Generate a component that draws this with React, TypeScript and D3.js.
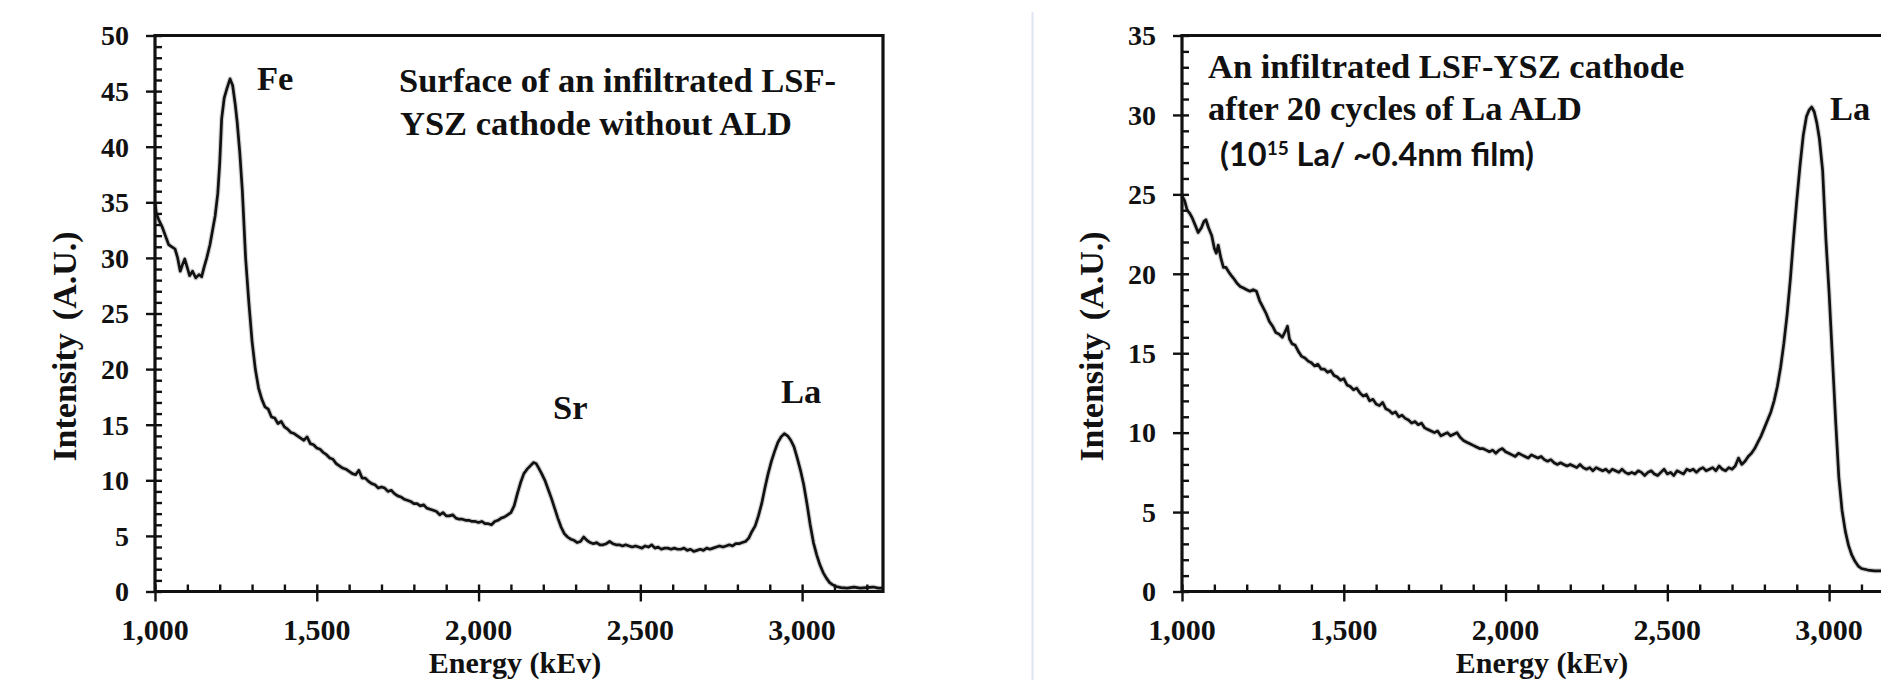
import React, { useEffect, useRef } from "react";
import * as d3 from "d3";

// [energy keV, intensity] (no ALD)
const spectrumNoAld: [number, number][] = [
  [1000, 35.0], [1004, 34.0], [1012, 33.4], [1022, 32.8], [1032, 32.0], [1042, 31.2],
  [1052, 31.0], [1062, 30.8], [1070, 30.0], [1078, 28.8], [1085, 29.4], [1092, 29.9],
  [1100, 29.1], [1107, 28.4], [1116, 28.8], [1126, 28.2], [1136, 28.5], [1144, 28.3],
  [1152, 29.2], [1160, 30.0], [1170, 31.2], [1178, 32.5], [1186, 33.8], [1194, 35.8],
  [1200, 38.5], [1206, 42.5], [1214, 44.4], [1222, 45.2], [1232, 46.1], [1240, 45.5],
  [1248, 43.8], [1254, 42.2], [1262, 39.5], [1270, 36.0], [1280, 30.0], [1290, 26.0],
  [1300, 22.5], [1310, 20.0], [1320, 18.3], [1330, 17.3], [1340, 16.6], [1350, 16.4],
  [1360, 15.7], [1370, 15.6], [1380, 15.1], [1390, 15.3], [1400, 14.8], [1410, 14.6],
  [1420, 14.3], [1430, 14.2], [1440, 14.0], [1450, 13.8], [1460, 13.6], [1470, 13.9],
  [1480, 13.3], [1490, 13.2], [1500, 12.9], [1510, 12.8], [1520, 12.5], [1530, 12.3],
  [1540, 12.0], [1550, 11.9], [1560, 11.5], [1570, 11.3], [1580, 11.1], [1590, 11.0],
  [1600, 10.8], [1610, 10.6], [1620, 10.5], [1630, 10.9], [1640, 10.2], [1650, 10.2],
  [1660, 9.9], [1670, 9.7], [1680, 9.6], [1690, 9.3], [1700, 9.4], [1710, 9.3],
  [1720, 9.0], [1730, 9.1], [1740, 8.8], [1750, 8.6], [1760, 8.5], [1770, 8.3],
  [1780, 8.2], [1790, 8.1], [1800, 7.9], [1810, 7.9], [1820, 7.7], [1830, 7.8],
  [1840, 7.5], [1850, 7.4], [1860, 7.3], [1870, 7.2], [1880, 6.9], [1890, 7.1],
  [1900, 6.8], [1910, 6.8], [1920, 6.9], [1930, 6.6], [1940, 6.5], [1950, 6.5],
  [1960, 6.4], [1970, 6.4], [1980, 6.3], [1990, 6.3], [2000, 6.2], [2010, 6.3],
  [2020, 6.1], [2030, 6.1], [2040, 6.0], [2050, 6.3], [2060, 6.4], [2070, 6.6],
  [2080, 6.7], [2090, 6.9], [2100, 7.1], [2110, 7.7], [2120, 8.8], [2130, 9.8],
  [2140, 10.6], [2150, 11.0], [2160, 11.3], [2170, 11.6], [2178, 11.5], [2186, 11.1],
  [2195, 10.6], [2205, 10.0], [2215, 9.2], [2225, 8.4], [2235, 7.5], [2245, 6.6],
  [2255, 5.8], [2265, 5.2], [2275, 4.9], [2285, 4.7], [2295, 4.6], [2305, 4.4],
  [2315, 4.5], [2325, 4.9], [2335, 4.6], [2345, 4.4], [2355, 4.3], [2365, 4.4],
  [2375, 4.2], [2385, 4.2], [2395, 4.3], [2405, 4.5], [2415, 4.3], [2425, 4.2],
  [2435, 4.2], [2445, 4.1], [2455, 4.2], [2465, 4.1], [2475, 4.0], [2485, 4.1],
  [2495, 4.0], [2505, 3.9], [2515, 4.1], [2525, 4.0], [2535, 4.2], [2545, 3.9],
  [2555, 4.0], [2565, 3.8], [2575, 3.9], [2585, 3.9], [2595, 3.8], [2605, 3.9],
  [2615, 3.8], [2625, 3.8], [2635, 3.9], [2645, 3.7], [2655, 3.8], [2665, 3.6],
  [2675, 3.7], [2685, 3.8], [2695, 3.7], [2705, 3.9], [2715, 3.8], [2725, 3.9],
  [2735, 4.0], [2745, 4.1], [2755, 4.0], [2765, 4.1], [2775, 4.2], [2785, 4.1],
  [2795, 4.3], [2805, 4.3], [2815, 4.4], [2825, 4.5], [2835, 4.8], [2845, 5.4],
  [2855, 5.9], [2865, 6.8], [2875, 7.9], [2885, 9.3], [2895, 10.6], [2905, 11.7],
  [2915, 12.6], [2925, 13.4], [2935, 13.9], [2945, 14.2], [2955, 14.0], [2965, 13.6],
  [2975, 13.0], [2985, 12.0], [2995, 10.9], [3005, 9.6], [3015, 7.9], [3025, 6.0],
  [3035, 4.4], [3045, 3.3], [3055, 2.4], [3065, 1.7], [3075, 1.2], [3085, 0.8],
  [3095, 0.6], [3105, 0.45], [3120, 0.35], [3140, 0.3], [3160, 0.4], [3180, 0.3],
  [3200, 0.35], [3220, 0.4], [3235, 0.3], [3250, 0.3],
];

// [energy keV, intensity] (20 cycles La ALD)
const spectrumLaAld: [number, number][] = [
  [1000, 24.9], [1008, 24.6], [1016, 24.0], [1024, 23.8], [1032, 23.5], [1042, 23.0],
  [1050, 22.6], [1060, 22.9], [1068, 23.3], [1074, 23.4], [1082, 22.9], [1092, 22.4],
  [1100, 21.6], [1106, 21.3], [1112, 21.8], [1120, 21.0], [1128, 20.4], [1136, 20.4],
  [1145, 20.1], [1152, 19.9], [1160, 19.7], [1170, 19.4], [1180, 19.2], [1190, 19.1],
  [1200, 19.0], [1210, 18.9], [1220, 19.0], [1230, 18.9], [1240, 18.3], [1250, 17.9],
  [1260, 17.5], [1270, 17.0], [1280, 16.7], [1290, 16.3], [1300, 16.2], [1310, 16.0],
  [1320, 16.4], [1326, 16.7], [1332, 15.9], [1340, 15.6], [1350, 15.5], [1360, 15.1],
  [1370, 14.8], [1380, 14.7], [1390, 14.5], [1400, 14.4], [1410, 14.2], [1420, 14.3],
  [1430, 14.0], [1440, 14.0], [1450, 13.8], [1460, 13.9], [1470, 13.6], [1480, 13.5],
  [1490, 13.3], [1500, 13.4], [1510, 13.0], [1520, 12.9], [1530, 12.7], [1540, 12.8],
  [1550, 12.5], [1560, 12.3], [1570, 12.4], [1580, 12.0], [1590, 12.1], [1600, 11.8],
  [1610, 11.7], [1620, 11.9], [1630, 11.5], [1640, 11.4], [1650, 11.2], [1660, 11.3],
  [1670, 11.0], [1680, 11.1], [1690, 10.9], [1700, 10.8], [1710, 10.6], [1720, 10.7],
  [1730, 10.5], [1740, 10.6], [1750, 10.3], [1760, 10.2], [1770, 10.1], [1780, 10.0],
  [1790, 10.1], [1800, 9.8], [1810, 9.9], [1820, 10.0], [1830, 9.8], [1840, 9.9],
  [1850, 10.0], [1860, 9.7], [1870, 9.5], [1880, 9.4], [1890, 9.3], [1900, 9.2],
  [1910, 9.1], [1920, 9.0], [1930, 9.0], [1940, 8.9], [1950, 8.8], [1960, 8.9],
  [1970, 8.7], [1980, 8.9], [1990, 9.0], [2000, 8.8], [2010, 8.7], [2020, 8.6],
  [2030, 8.5], [2040, 8.7], [2050, 8.6], [2060, 8.5], [2070, 8.4], [2080, 8.6],
  [2090, 8.5], [2100, 8.4], [2110, 8.5], [2120, 8.3], [2130, 8.2], [2140, 8.3],
  [2150, 8.1], [2160, 8.0], [2170, 8.1], [2180, 8.0], [2190, 7.9], [2200, 8.0],
  [2210, 7.9], [2220, 7.8], [2230, 8.0], [2240, 7.8], [2250, 7.7], [2260, 7.8],
  [2270, 7.6], [2280, 7.8], [2290, 7.7], [2300, 7.6], [2310, 7.7], [2320, 7.5],
  [2330, 7.7], [2340, 7.6], [2350, 7.5], [2360, 7.7], [2370, 7.5], [2380, 7.4],
  [2390, 7.5], [2400, 7.4], [2410, 7.6], [2420, 7.5], [2430, 7.3], [2440, 7.5],
  [2450, 7.6], [2460, 7.4], [2470, 7.3], [2480, 7.5], [2490, 7.7], [2500, 7.4],
  [2510, 7.5], [2520, 7.3], [2530, 7.6], [2540, 7.5], [2550, 7.4], [2560, 7.7],
  [2570, 7.6], [2580, 7.7], [2590, 7.5], [2600, 7.7], [2610, 7.8], [2620, 7.6],
  [2630, 7.7], [2640, 7.8], [2650, 7.6], [2660, 7.9], [2670, 7.7], [2680, 7.6],
  [2690, 7.8], [2700, 7.7], [2710, 7.9], [2720, 8.4], [2730, 8.0], [2740, 8.2],
  [2750, 8.5], [2760, 8.7], [2770, 9.0], [2780, 9.4], [2790, 9.8], [2800, 10.3],
  [2810, 10.8], [2820, 11.3], [2830, 12.0], [2840, 12.9], [2850, 14.1], [2860, 15.6],
  [2870, 17.4], [2880, 19.6], [2890, 22.2], [2900, 24.6], [2910, 26.8], [2920, 28.7],
  [2930, 29.9], [2938, 30.3], [2946, 30.5], [2954, 30.2], [2962, 29.5], [2970, 28.5],
  [2980, 26.5], [2990, 22.2], [3000, 18.8], [3010, 14.8], [3020, 10.8], [3030, 7.2],
  [3040, 5.1], [3050, 3.8], [3060, 2.9], [3070, 2.3], [3080, 1.9], [3090, 1.6],
  [3100, 1.45], [3120, 1.35], [3140, 1.3], [3160, 1.3], [3200, 1.3], [3250, 1.3],
];

const xTicks = [1000, 1500, 2000, 2500, 3000];
const yTicksNoAld = [0, 5, 10, 15, 20, 25, 30, 35, 40, 45, 50];
const yTicksLaAld = [0, 5, 10, 15, 20, 25, 30, 35];

const serif = "'Liberation Serif', 'Times New Roman', serif";
const plotW = 728;
const plotH = 556;

const Panel = ({ left, top, data, yMax, yTicks, children }) => {
  const gRef = useRef<SVGGElement>(null);

  useEffect(() => {
    const g = d3.select(gRef.current);
    g.selectAll("*").remove();

    const x = d3.scaleLinear().domain([1000, 3250]).range([0, plotW]);
    const y = d3.scaleLinear().domain([0, yMax]).range([plotH, 0]);

    // spectrum, with a faint grey halo like the scanned original
    const line = d3
      .line<[number, number]>()
      .x((d) => x(d[0]))
      .y((d) => y(d[1]));
    g.append("path")
      .datum(data)
      .attr("d", line)
      .attr("fill", "none")
      .attr("stroke", "#9a9a9a")
      .attr("stroke-opacity", 0.45)
      .attr("stroke-width", 5)
      .attr("stroke-linejoin", "round");
    g.append("path")
      .datum(data)
      .attr("d", line)
      .attr("fill", "none")
      .attr("stroke", "#111")
      .attr("stroke-width", 2.7)
      .attr("stroke-linejoin", "round");

    // minor ticks pointing inside, major ticks crossing the axis
    const minorX = d3.range(1000, 3251, 100);
    const minorY = d3.range(0, yMax + 1, 1);
    const styleTicks = (sel) => {
      sel.select(".domain").remove();
      sel.selectAll("line").attr("stroke", "#111").attr("stroke-width", 2.4);
      sel.selectAll("text").remove();
    };
    g.append("g")
      .attr("transform", `translate(0,${plotH})`)
      .call(d3.axisBottom(x).tickValues(minorX).tickSize(-7))
      .call(styleTicks);
    g.append("g")
      .attr("transform", `translate(0,${plotH})`)
      .call(d3.axisBottom(x).tickValues(xTicks).tickSize(10))
      .call(styleTicks);
    g.append("g")
      .call(d3.axisLeft(y).tickValues(minorY).tickSize(-7))
      .call(styleTicks);
    g.append("g")
      .call(d3.axisLeft(y).tickValues(yTicks).tickSize(9))
      .call(styleTicks);

    // frame
    g.append("path")
      .attr("d", `M0,${plotH}H${plotW}V0H0V${plotH}`)
      .attr("fill", "none")
      .attr("stroke", "#111")
      .attr("stroke-width", 3.2);

    // tick labels
    g.selectAll(".xlab")
      .data(xTicks)
      .enter()
      .append("text")
      .attr("x", (d) => x(d))
      .attr("y", plotH + 48)
      .attr("text-anchor", "middle")
      .attr("font-family", serif)
      .attr("font-weight", "bold")
      .attr("font-size", 30)
      .attr("fill", "#111")
      .text((d) => d3.format(",")(d));
    g.selectAll(".ylab")
      .data(yTicks)
      .enter()
      .append("text")
      .attr("x", -26)
      .attr("y", (d) => y(d))
      .attr("dy", "0.35em")
      .attr("text-anchor", "end")
      .attr("font-family", serif)
      .attr("font-weight", "bold")
      .attr("font-size", 28)
      .attr("fill", "#111")
      .text((d) => d);
  }, [data, yMax, yTicks]);

  return (
    <g transform={`translate(${left},${top})`}>
      <g ref={gRef} />
      {children}
    </g>
  );
};

const AxisTitles = () => (
  <g fontFamily={serif} fontWeight="bold" fill="#111">
    <text x={360} y={637} fontSize={30} textAnchor="middle">
      Energy (kEv)
    </text>
    <text transform="translate(-79,311) rotate(-90)" fontSize={34} textAnchor="middle">
      Intensity<tspan dx={13}>(A.U.)</tspan>
    </text>
  </g>
);

export default function App() {
  return (
    <svg
      width={1881}
      height={680}
      style={{ position: "absolute", left: 0, top: 0, display: "block", background: "#fff" }}
    >
      <rect width={1881} height={680} fill="#fff" />
      <line x1={1032.5} x2={1032.5} y1={12} y2={680} stroke="#dde6f1" strokeWidth={2} />

      <Panel left={155} top={35.5} data={spectrumNoAld} yMax={50} yTicks={yTicksNoAld}>
        <AxisTitles />
        <g fontFamily={serif} fontWeight="bold" fill="#111" fontSize={34.5}>
          <text x={102} y={54.5}>Fe</text>
          <text x={398} y={383.5}>Sr</text>
          <text x={626} y={367.5}>La</text>
          <text x={244} y={56.5}>Surface of an infiltrated LSF-</text>
          <text x={245} y={99.5}>YSZ cathode without ALD</text>
        </g>
      </Panel>

      <Panel left={1182} top={35.5} data={spectrumLaAld} yMax={35} yTicks={yTicksLaAld}>
        <AxisTitles />
        <g fontFamily={serif} fontWeight="bold" fill="#111" fontSize={34.5}>
          <text x={648} y={84.5}>La</text>
          <text x={26} y={42.5}>An infiltrated LSF-YSZ cathode</text>
          <text x={26} y={84.5}>after 20 cycles of La ALD</text>
        </g>
        <text
          x={38}
          y={130.5}
          fontFamily="Lato, 'Open Sans', sans-serif"
          fontWeight="bold"
          fontSize={32.5}
          fill="#111"
        >
          (10
          <tspan fontSize={19} dy={-11}>15</tspan>
          <tspan dy={11}> La/ ~0.4nm film)</tspan>
        </text>
      </Panel>
    </svg>
  );
}
